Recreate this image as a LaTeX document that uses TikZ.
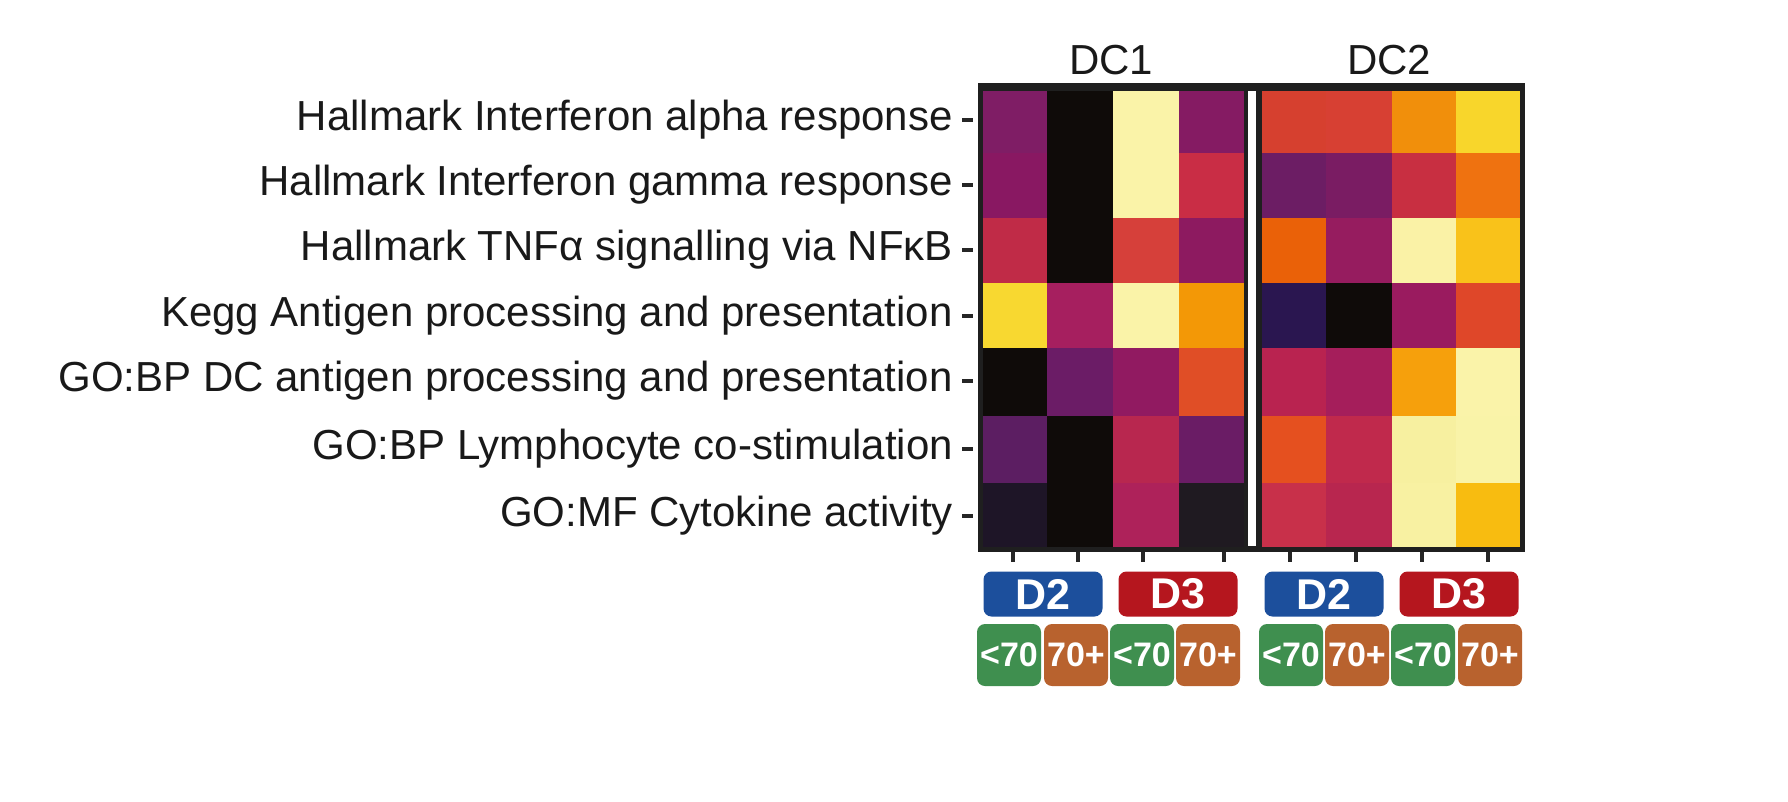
\documentclass[tikz,border=0pt]{standalone}
\usepackage{fontspec}
\setmainfont{Liberation Sans}
\begin{document}
\begin{tikzpicture}[x=1pt,y=-1pt,
 lab/.style={anchor=east,font=\fontsize{42}{44}\selectfont,text=black!90,inner sep=0},
 ttl/.style={font=\fontsize{42}{44}\selectfont,text=black!90,inner sep=0},
 dbox/.style={rounded corners=8pt,minimum width=119pt,minimum height=45pt,inner sep=0,text=white,font=\bfseries\fontsize{43}{44}\selectfont},
 abox/.style={rounded corners=8pt,minimum width=64pt,minimum height=62pt,inner sep=0,text=white,font=\bfseries\fontsize{34}{36}\selectfont},
 tick/.style={line width=3.5pt,draw=black!85}]
\useasboundingbox (0,0) rectangle (1788,801);
\definecolor{dblue}{HTML}{1C4F9C}\definecolor{dred}{HTML}{B5161E}
\definecolor{agreen}{HTML}{3F8F4F}\definecolor{aorange}{HTML}{B8622E}
\fill[black!88] (978,83) rectangle (1525,552);
\fill[white] (1248,91) rectangle (1256,546);
\def\ys{{91,153,218,283,348,416,483,547}}
\def\xa{{983,1047,1113,1179,1244}}
\def\xb{{1262,1326,1392,1456,1520}}
\def\ca{{"7F1D65","0F0B09","FAF3A8","851B63","891862","0F0B09","FAF3A8","C92D45","C02B47","0F0B09","D6403A","8D1A60","F8D830","A61F5F","FAF3A8","F39806","0F0B09","6B1C66","911A61","E04E26","5C1E62","0F0B09","B8274F","6A1C65","1E1527","0F0B09","AE225A","1F1A21"}}
\def\cb{{"D6402F","D74033","F18F0B","F8D62B","6C1D64","7A1C63","C82F41","EF7210","EA6108","961C5F","FAF2A6","F9C21A","2A1650","0F0B09","9A1B5F","DF4729","B92350","A51E5B","F6A00C","FAF3A9","E5501F","C0294C","F7F0A0","F9F3A8","C8304A","B8264F","F8F1A2","F8BC10"}}
\foreach \r in {0,...,6}{
 \foreach \c in {0,...,3}{
  \pgfmathsetmacro\xl{\xa[\c]}\pgfmathsetmacro\xr{\xa[\c+1]}
  \pgfmathsetmacro\yt{\ys[\r]}\pgfmathsetmacro\yb{\ys[\r+1]}
  \pgfmathtruncatemacro\ia{\r*4+\c}
  \pgfmathparse{\ca[\ia]}\definecolor{cc}{HTML}{\pgfmathresult}
  \fill[cc] (\xl,\yt) rectangle (\xr,\yb);
  \pgfmathsetmacro\xl{\xb[\c]}\pgfmathsetmacro\xr{\xb[\c+1]}
  \pgfmathparse{\cb[\ia]}\definecolor{cc}{HTML}{\pgfmathresult}
  \fill[cc] (\xl,\yt) rectangle (\xr,\yb);
 }}
\foreach \y/\t [count=\i] in {120/Hallmark Interferon alpha response,185/Hallmark Interferon gamma response,250/Hallmark TNFα signalling via NFκB,316/Kegg Antigen processing and presentation,381/GO:BP DC antigen processing and presentation,449/GO:BP Lymphocyte co-stimulation,516/GO:MF Cytokine activity}{
 \node[lab] (l\i) at (953,\y) {\t};
 \coordinate (ta\i) at (962,\y); \coordinate (tb\i) at (973,\y);
 \draw[tick] (ta\i) -- (tb\i);
}
\foreach \x [count=\i] in {1013,1078,1143,1224,1290,1356,1422,1488}{
 \coordinate (ba\i) at (\x,552); \coordinate (bb\i) at (\x,562);
 \draw[tick] (ba\i) -- (bb\i);
}
\node[ttl] (t1) at (1111,60) {DC1};
\node[ttl] (t2) at (1389,60) {DC2};
\node[dbox,fill=dblue] (d1) at (1043,594) {D2};
\node[dbox,fill=dred] (d2) at (1178,594) {D3};
\node[dbox,fill=dblue] (d3) at (1324,594) {D2};
\node[dbox,fill=dred] (d4) at (1459,594) {D3};
\foreach \x/\c/\t [count=\i] in {1009/agreen/<70,1076/aorange/70+,1142/agreen/<70,1208/aorange/70+,1291/agreen/<70,1357/aorange/70+,1423/agreen/<70,1490/aorange/70+}{
 \node[abox,fill=\c] (a\i) at (\x,655) {\t};
}
\end{tikzpicture}
\end{document}
